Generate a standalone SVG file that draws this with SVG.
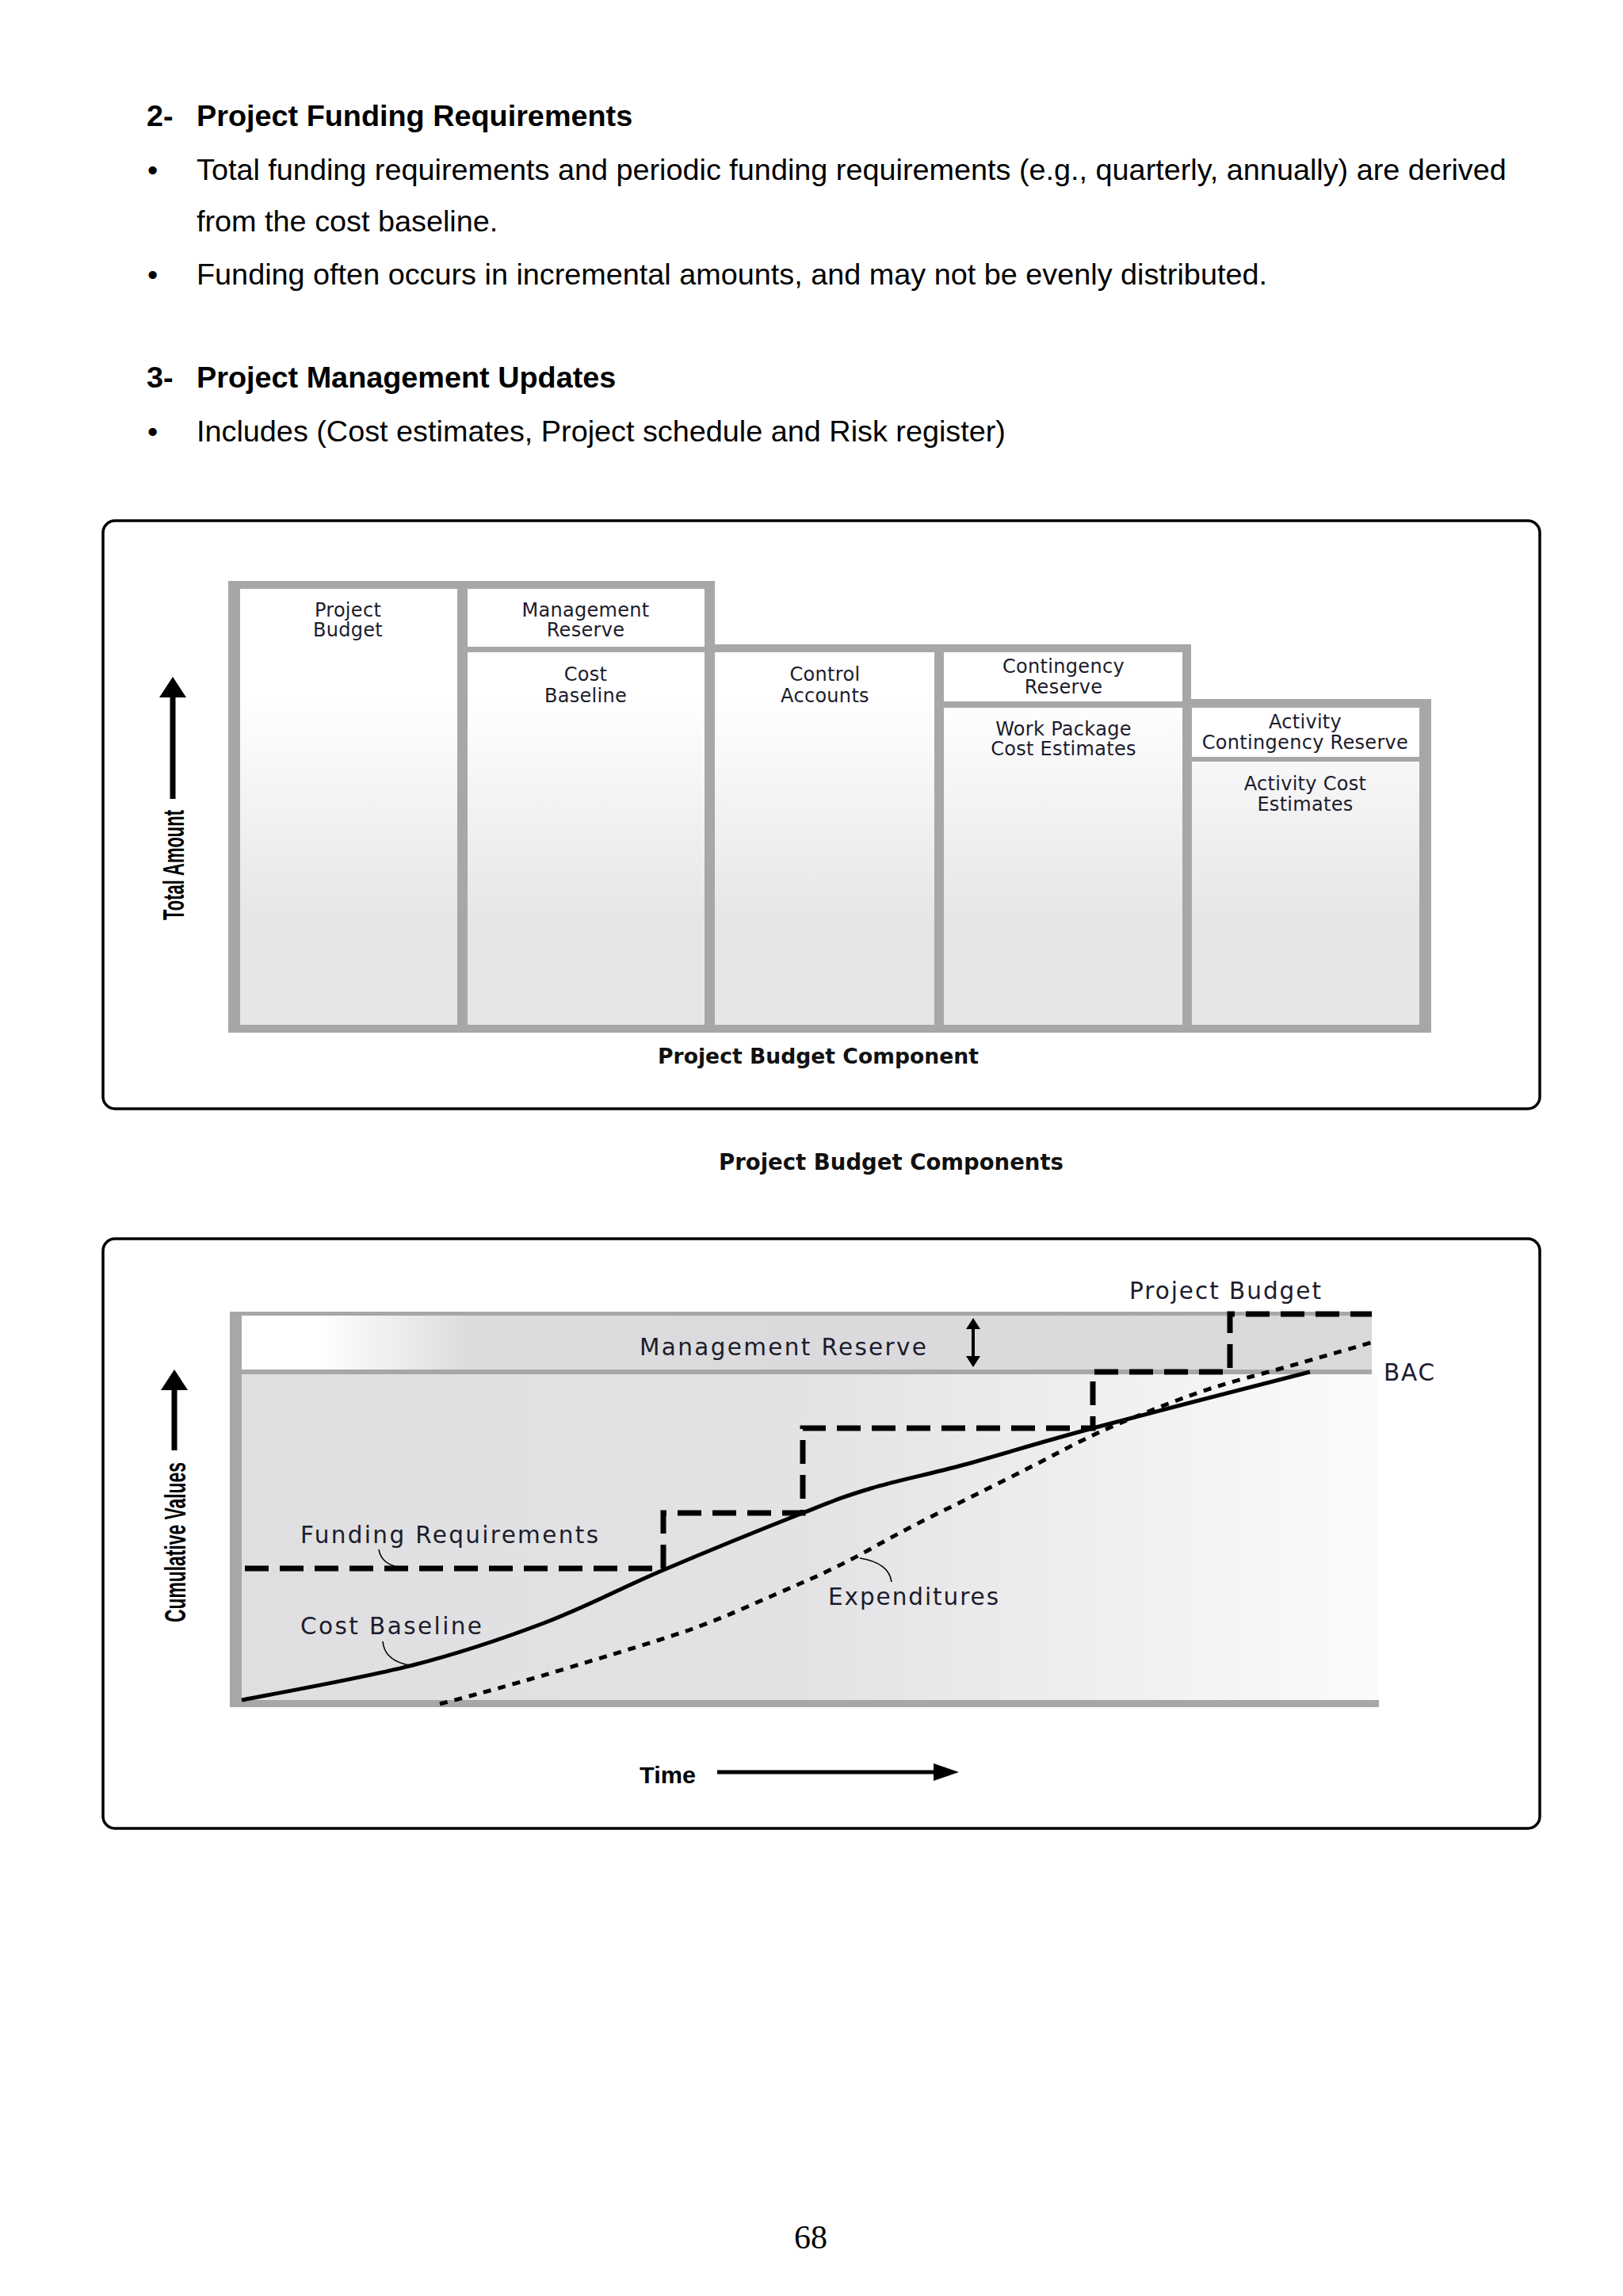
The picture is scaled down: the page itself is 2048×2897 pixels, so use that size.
<svg xmlns="http://www.w3.org/2000/svg" width="2048" height="2897" viewBox="0 0 2048 2897">
<style>
  .h { font-family: "Liberation Sans", Arial, sans-serif; font-size: 37.8px; font-weight: bold; fill: #000; }
  .b { font-family: "Liberation Sans", Arial, sans-serif; font-size: 37.8px; fill: #000; }
  .frame { fill: #ffffff; stroke: #000; stroke-width: 3.5; }
  .grey { fill: #a7a7a9; }
  .c1 { font-family: "DejaVu Sans", "Liberation Sans", sans-serif; font-size: 24px; letter-spacing: 0.3px; fill: #1c1c2c; text-anchor: middle; }
  .c2 { font-family: "DejaVu Sans", "Liberation Sans", sans-serif; font-size: 29.5px; fill: #1c1c2c; }
  .ax { font-family: "Liberation Sans", Arial, sans-serif; font-weight: bold; fill: #000; }
  .cap { font-family: "DejaVu Sans", "Liberation Sans", sans-serif; font-weight: bold; fill: #111; }
  .leader { fill: none; stroke: #000; stroke-width: 1.6; }
</style>
<defs>
  <linearGradient id="colGrad" gradientUnits="userSpaceOnUse" x1="0" y1="880" x2="0" y2="1160">
    <stop offset="0" stop-color="#ffffff"/>
    <stop offset="1" stop-color="#e6e6e8"/>
  </linearGradient>
  <linearGradient id="areaGrad" gradientUnits="userSpaceOnUse" x1="305" y1="0" x2="1740" y2="0">
    <stop offset="0" stop-color="#dfdfe1"/>
    <stop offset="0.5" stop-color="#e3e3e5"/>
    <stop offset="1" stop-color="#fbfbfb"/>
  </linearGradient>
  <linearGradient id="bandGrad" gradientUnits="userSpaceOnUse" x1="305" y1="0" x2="1731" y2="0">
    <stop offset="0" stop-color="#ffffff"/>
    <stop offset="0.07" stop-color="#ffffff"/>
    <stop offset="0.2" stop-color="#dcdcde"/>
    <stop offset="1" stop-color="#d9d9db"/>
  </linearGradient>
  <marker id="axisHead" viewBox="0 0 26 34" refX="2" refY="17" markerWidth="26" markerHeight="34" markerUnits="userSpaceOnUse" orient="auto">
    <path d="M0,0 L26,17 L0,34 Z" fill="#000"/>
  </marker>
  <marker id="timeHead" viewBox="0 0 32 22" refX="2" refY="11" markerWidth="32" markerHeight="22" markerUnits="userSpaceOnUse" orient="auto">
    <path d="M0,0 L32,11 L0,22 Z" fill="#000"/>
  </marker>
  <marker id="smallHead" viewBox="0 0 14 18" refX="2" refY="9" markerWidth="14" markerHeight="18" markerUnits="userSpaceOnUse" orient="auto-start-reverse">
    <path d="M0,0 L14,9 L0,18 Z" fill="#000"/>
  </marker>
</defs>

<rect x="0" y="0" width="2048" height="2897" fill="#ffffff"/>

<!-- Body text -->
<g id="text-section">
  <text class="h" x="185" y="159">2-</text>
  <text class="h" x="248" y="159">Project Funding Requirements</text>
  <text class="b" x="186" y="227">•</text>
  <text class="b" x="248" y="227">Total funding requirements and periodic funding requirements (e.g., quarterly, annually) are derived</text>
  <text class="b" x="248" y="292">from the cost baseline.</text>
  <text class="b" x="186" y="359">•</text>
  <text class="b" x="248" y="359">Funding often occurs in incremental amounts, and may not be evenly distributed.</text>
  <text class="h" x="185" y="489">3-</text>
  <text class="h" x="248" y="489">Project Management Updates</text>
  <text class="b" x="186" y="557">•</text>
  <text class="b" x="248" y="557">Includes (Cost estimates, Project schedule and Risk register)</text>
</g>

<!-- Figure 1: Project Budget Components -->
<g id="figure1">
  <rect class="frame" x="130" y="657" width="1813" height="742" rx="15" ry="15"/>
  <path class="grey" d="M288,733 H902 V813 H1503 V882 H1806 V1303 H288 Z"/>
  <g id="node-project-budget">
    <rect x="303" y="743" width="274" height="550" fill="url(#colGrad)"/>
    <text class="c1" x="439" y="778">Project</text>
    <text class="c1" x="439" y="803">Budget</text>
  </g>
  <g id="node-management-reserve">
    <rect x="590" y="743" width="299" height="73" fill="#ffffff"/>
    <text class="c1" x="739" y="778">Management</text>
    <text class="c1" x="739" y="803">Reserve</text>
  </g>
  <g id="node-cost-baseline">
    <rect x="590" y="823" width="299" height="470" fill="url(#colGrad)"/>
    <text class="c1" x="739" y="859">Cost</text>
    <text class="c1" x="739" y="886">Baseline</text>
  </g>
  <g id="node-control-accounts">
    <rect x="902" y="823" width="277" height="470" fill="url(#colGrad)"/>
    <text class="c1" x="1041" y="859">Control</text>
    <text class="c1" x="1041" y="886">Accounts</text>
  </g>
  <g id="node-contingency-reserve">
    <rect x="1191" y="823" width="301" height="62" fill="#ffffff"/>
    <text class="c1" x="1342" y="849">Contingency</text>
    <text class="c1" x="1342" y="875">Reserve</text>
  </g>
  <g id="node-work-package">
    <rect x="1191" y="893" width="301" height="400" fill="url(#colGrad)"/>
    <text class="c1" x="1342" y="928">Work Package</text>
    <text class="c1" x="1342" y="953">Cost Estimates</text>
  </g>
  <g id="node-activity-contingency">
    <rect x="1504" y="893" width="287" height="62" fill="#ffffff"/>
    <text class="c1" x="1647" y="919">Activity</text>
    <text class="c1" x="1647" y="945">Contingency Reserve</text>
  </g>
  <g id="node-activity-cost">
    <rect x="1504" y="961" width="287" height="332" fill="url(#colGrad)"/>
    <text class="c1" x="1647" y="997">Activity Cost</text>
    <text class="c1" x="1647" y="1023">Estimates</text>
  </g>
  <g id="axis1">
    <line x1="218" y1="1008" x2="218" y2="878" stroke="#000" stroke-width="7" marker-end="url(#axisHead)"/>
    <text class="ax" font-size="36" transform="translate(232,1161) rotate(-90)" textLength="139" lengthAdjust="spacingAndGlyphs">Total Amount</text>
    <text class="cap" x="830" y="1342" font-size="27" textLength="405" lengthAdjust="spacingAndGlyphs">Project Budget Component</text>
  </g>
</g>

<text class="cap" x="907" y="1476" font-size="28" textLength="435" lengthAdjust="spacingAndGlyphs">Project Budget Components</text>

<!-- Figure 2: Cost baseline, expenditures and funding requirements -->
<g id="figure2">
  <rect class="frame" x="130" y="1563" width="1813" height="744" rx="15" ry="15"/>
  <rect x="305" y="1734" width="1435" height="411" fill="url(#areaGrad)"/>
  <g id="node-management-reserve-band">
    <rect x="305" y="1660" width="1426" height="68" fill="url(#bandGrad)"/>
    <rect class="grey" x="290" y="1655" width="1441" height="5"/>
    <rect class="grey" x="305" y="1728" width="1426" height="6"/>
    <text class="c2" x="807" y="1710" textLength="362" lengthAdjust="spacing">Management Reserve</text>
  </g>
  <rect class="grey" x="290" y="1655" width="15" height="499"/>
  <rect class="grey" x="290" y="2145" width="1450" height="9"/>

  <g id="labels2">
    <text class="c2" x="1425" y="1639" textLength="242" lengthAdjust="spacing">Project Budget</text>
    <text class="c2" x="1746" y="1742" textLength="64" lengthAdjust="spacing">BAC</text>
    <text class="c2" x="379" y="1947" textLength="376" lengthAdjust="spacing">Funding Requirements</text>
    <text class="c2" x="379" y="2062" textLength="229" lengthAdjust="spacing">Cost Baseline</text>
    <text class="c2" x="1045" y="2025" textLength="215" lengthAdjust="spacing">Expenditures</text>
    <text class="ax" x="807" y="2250" font-size="30" textLength="71" lengthAdjust="spacingAndGlyphs">Time</text>
    <text class="ax" font-size="36" transform="translate(234,2047) rotate(-90)" textLength="202" lengthAdjust="spacingAndGlyphs">Cumulative Values</text>
  </g>

  <g id="connectors">
    <path id="funding-requirements" d="M309,1979 H837 V1909 H1013 V1802 H1379 V1731 H1552 V1658 H1731" fill="none" stroke="#000" stroke-width="7" stroke-dasharray="30 14"/>
    <path id="cost-baseline" d="M305,2145 C341,2138 457.5,2117.2 521,2101 C584.5,2084.8 633.3,2068 686,2048 C738.7,2028 782.5,2004.2 837,1981 C891.5,1957.8 969.3,1926.2 1013,1909 C1056.7,1891.8 1065,1888.2 1099,1878 C1133,1867.8 1170.3,1860.7 1217,1848 C1263.7,1835.3 1306.3,1821.5 1379,1802 C1451.7,1782.5 1607.3,1742.8 1653,1731" fill="none" stroke="#000" stroke-width="5"/>
    <path id="expenditures" d="M555,2150 L602,2137.5 Q649,2125 713.5,2105.5 Q778,2086 831,2069.5 Q884,2053 931,2032.5 Q978,2012 1019,1994 Q1060,1976 1101,1953 Q1142,1930 1183.5,1909.5 Q1225,1889 1266,1868.5 Q1307,1848 1341,1830 Q1375,1812 1411.5,1796.5 Q1448,1781 1489,1765.5 Q1530,1750 1577,1737.5 Q1624,1725 1730,1694" fill="none" stroke="#000" stroke-width="5" stroke-dasharray="10 9"/>
    <path class="leader" d="M478,1955 Q481,1974 506,1978"/>
    <path class="leader" d="M483,2071 Q485,2095 516,2101"/>
    <path class="leader" d="M1085,1966 Q1122,1972 1125,1996"/>
    <line x1="1228" y1="1675" x2="1228" y2="1713" stroke="#000" stroke-width="4" marker-start="url(#smallHead)" marker-end="url(#smallHead)"/>
    <line x1="220" y1="1830" x2="220" y2="1752" stroke="#000" stroke-width="7" marker-end="url(#axisHead)"/>
    <line x1="905" y1="2236" x2="1180" y2="2236" stroke="#000" stroke-width="5" marker-end="url(#timeHead)"/>
  </g>
</g>

<text x="1023" y="2837" font-family="Liberation Serif, Times New Roman, serif" font-size="42" text-anchor="middle" fill="#000">68</text>
</svg>
